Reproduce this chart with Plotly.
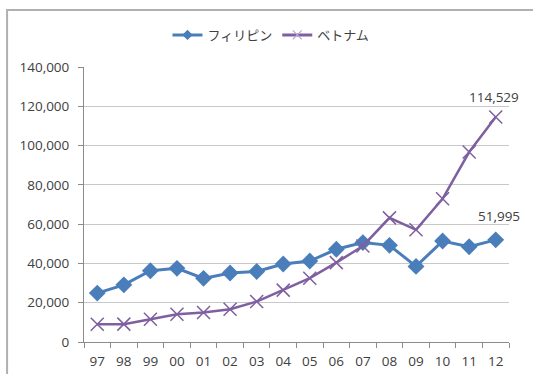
import plotly.graph_objects as go

years = ["97", "98", "99", "00", "01", "02", "03", "04", "05", "06", "07", "08", "09", "10", "11", "12"]
philippines = [24900, 29100, 36300, 37500, 32400, 35100, 35900, 39700, 41200, 47200, 50600, 49200, 38500, 51400, 48500, 51995]
vietnam = [9000, 9100, 11600, 14100, 15000, 16700, 20600, 26400, 32500, 40400, 48900, 63200, 57100, 72900, 96700, 114529]

BLUE = "#4a7ebb"
PURPLE = "#7f5fa0"
TEXT = "#404040"
FONT = "Open Sans, Noto Sans CJK JP, sans-serif"

fig = go.Figure()
fig.add_trace(go.Scatter(
    x=years, y=philippines, name="フィリピン", mode="lines+markers",
    line=dict(color=BLUE, width=3),
    marker=dict(symbol="diamond", size=13, color=BLUE),
    showlegend=False,
))
fig.add_trace(go.Scatter(
    x=years, y=vietnam, name="ベトナム", mode="lines+markers",
    line=dict(color=PURPLE, width=2.5),
    marker=dict(symbol="x-thin", size=13, line=dict(color=PURPLE, width=1.5)),
    showlegend=False,
))

# legend entries with smaller sample markers
fig.add_trace(go.Scatter(
    x=[None], y=[None], name="フィリピン", mode="lines+markers",
    line=dict(color=BLUE, width=3),
    marker=dict(symbol="diamond", size=8, color=BLUE),
))
fig.add_trace(go.Scatter(
    x=[None], y=[None], name="ベトナム", mode="lines+markers",
    line=dict(color=PURPLE, width=3),
    marker=dict(symbol="x-thin", size=9, line=dict(color="#b9a6cf", width=1.2)),
))

# value labels on the final year of each series
last = len(years) - 1
for vals, shift, dx in ((vietnam, 20, -2), (philippines, 24, 3)):
    fig.add_annotation(
        x=last, y=vals[-1], text=f"{vals[-1]:,}", showarrow=False,
        yshift=shift, xshift=dx, font=dict(size=13.5, color=TEXT, family=FONT),
    )

# chart frame
fig.add_shape(type="rect", xref="paper", yref="paper",
              x0=-0.181, x1=1.2, y0=-0.3, y1=1.2075,
              line=dict(color="#b0b0b0", width=2), layer="below")

fig.update_layout(
    width=533, height=374,
    margin=dict(l=84, r=24, t=67, b=32, autoexpand=False),
    paper_bgcolor="white", plot_bgcolor="white",
    font=dict(family=FONT, size=13.5, color=TEXT),
    showlegend=True,
    legend=dict(orientation="h", x=0.44, xanchor="center", y=1.1165, yanchor="middle",
                font=dict(size=13, color=TEXT), bgcolor="rgba(0,0,0,0)",
                traceorder="normal"),
)
fig.update_xaxes(
    type="category", range=[-0.5, len(years) - 0.5], tickson="boundaries",
    ticks="outside", ticklen=5, tickcolor="#8c8c8c", ticklabelstandoff=7,
    showline=True, linecolor="#8c8c8c", linewidth=1,
    showgrid=False, tickfont=dict(size=13.5),
)
fig.update_yaxes(
    range=[0, 140000], dtick=20000, tickformat=",", ticks="outside", ticklen=5,
    tickcolor="#8c8c8c", ticklabelstandoff=6,
    showline=True, linecolor="#8c8c8c", linewidth=1,
    gridcolor="#c8c8c8", gridwidth=1, zeroline=False, tickfont=dict(size=13.5),
)

fig.write_html("out.html")
